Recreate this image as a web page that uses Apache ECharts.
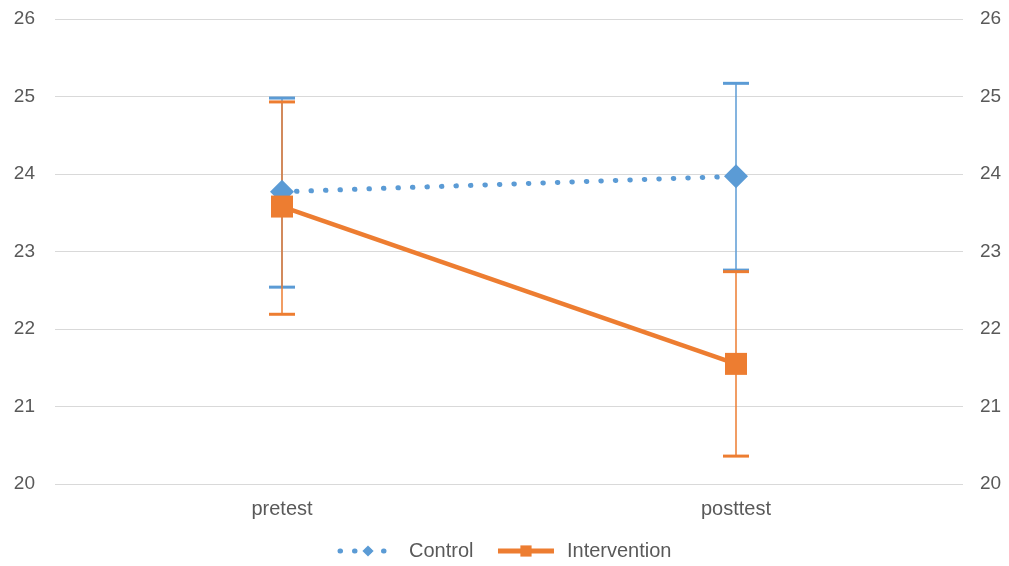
<!DOCTYPE html>
<html><head><meta charset="utf-8">
<script src="https://cdn.jsdelivr.net/npm/echarts@6/dist/echarts.min.js"></script>
<style>html,body{margin:0;padding:0;background:#fff}#c{width:1009px;height:566px}</style>
</head><body><div id="c"></div>
<script>
const categories = ['pretest', 'posttest'];
const controlMean = [23.77, 23.97];
const controlLow = [22.54, 22.76];
const controlHigh = [24.98, 25.17];
const interventionMean = [23.58, 21.55];
const interventionLow = [22.19, 20.36];
const interventionHigh = [24.93, 22.74];
const yMin = 20, yMax = 26, yStep = 1;

const BLUE = '#5B9BD5', ORANGE = '#ED7D31';
const chart = echarts.init(document.getElementById('c'));

function errData(low, high) {
  return categories.map((c, i) => [i, low[i], high[i]]);
}
function errSeries(name, low, high, color, z) {
  return {
    type: 'custom', name: name + ' err', z: z, silent: true,
    data: errData(low, high),
    renderItem: function (params, api) {
      const x = api.value(0);
      const lo = api.coord([x, api.value(1)]);
      const hi = api.coord([x, api.value(2)]);
      const hw = 13;
      return {
        type: 'group',
        children: [
          { type: 'line', shape: { x1: lo[0], y1: lo[1], x2: hi[0], y2: hi[1] }, style: { stroke: color, lineWidth: 1.5 } },
          { type: 'line', shape: { x1: lo[0] - hw, y1: lo[1], x2: lo[0] + hw, y2: lo[1] }, style: { stroke: color, lineWidth: 3 } },
          { type: 'line', shape: { x1: hi[0] - hw, y1: hi[1], x2: hi[0] + hw, y2: hi[1] }, style: { stroke: color, lineWidth: 3 } }
        ]
      };
    }
  };
}

const FONT = 'Liberation Sans, Arial, sans-serif';
const labelStyle = { color: '#595959', fontSize: 19, fontFamily: FONT };

chart.setOption({
  animation: false,
  backgroundColor: '#fff',
  grid: { left: 55, right: 46, top: 19, bottom: 82 },
  legend: {
    bottom: 0, left: 'center',
    itemWidth: 56, itemHeight: 14, itemGap: 22,
    data: ['Control', 'Intervention'],
    lineStyle: { width: 5 },
    textStyle: { color: '#595959', fontSize: 20, fontFamily: FONT, padding: [0, 0, 0, 8] }
  },
  xAxis: {
    type: 'category', data: categories, boundaryGap: true,
    axisLine: { show: false }, axisTick: { show: false },
    axisLabel: { color: '#595959', fontSize: 20, fontFamily: FONT, margin: 15 }
  },
  yAxis: [
    { type: 'value', min: yMin, max: yMax, interval: yStep, position: 'left',
      axisLine: { show: false }, axisTick: { show: false },
      axisLabel: Object.assign({}, labelStyle, { margin: 20 }),
      splitLine: { lineStyle: { color: '#d9d9d9', width: 1 } } },
    { type: 'value', min: yMin, max: yMax, interval: yStep, position: 'right',
      axisLine: { show: false }, axisTick: { show: false },
      axisLabel: Object.assign({}, labelStyle, { margin: 17 }),
      splitLine: { show: false } }
  ],
  series: [
    errSeries('Control', controlLow, controlHigh, BLUE, 1),
    errSeries('Intervention', interventionLow, interventionHigh, ORANGE, 2),
    {
      name: 'Control', type: 'line', data: controlMean, z: 3,
      symbol: 'diamond', symbolSize: 24,
      itemStyle: { color: BLUE },
      lineStyle: { color: BLUE, width: 5, type: [0.5, 14], cap: 'round' }
    },
    {
      name: 'Intervention', type: 'line', data: interventionMean, z: 4,
      symbol: 'rect', symbolSize: 22,
      itemStyle: { color: ORANGE },
      lineStyle: { color: ORANGE, width: 4.5 }
    }
  ]
});
</script></body></html>
